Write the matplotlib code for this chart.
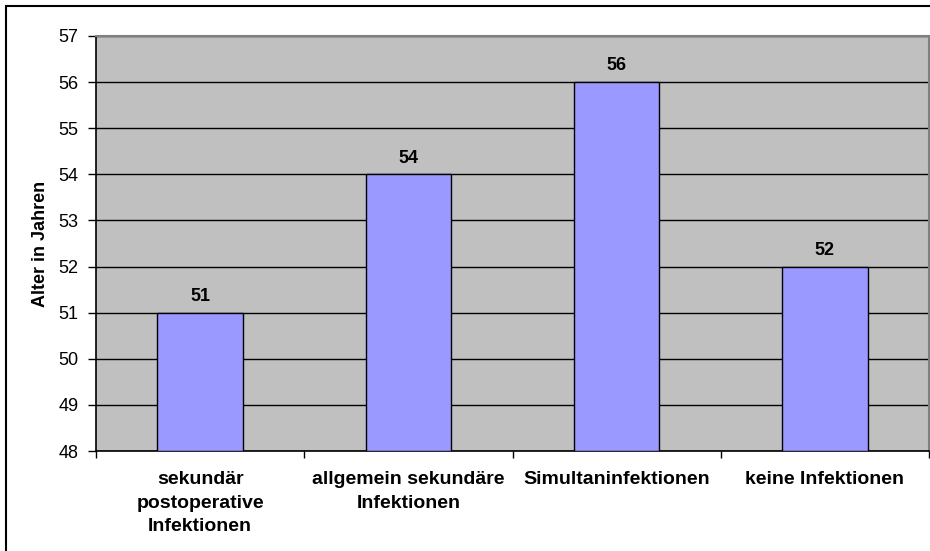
import matplotlib
matplotlib.use("Agg")
import matplotlib.pyplot as plt
from matplotlib.patches import Rectangle

plt.rcParams['font.family'] = ['Liberation Sans', 'DejaVu Sans']

categories = ["sekundär\npostoperative\nInfektionen",
              "allgemein sekundäre\nInfektionen",
              "Simultaninfektionen",
              "keine Infektionen"]
values = [51, 54, 56, 52]
y_ticks = [48, 49, 50, 51, 52, 53, 54, 55, 56, 57]

W, H = 930, 551
fig = plt.figure(figsize=(W / 100, H / 100), dpi=100)
fig.patch.set_facecolor("white")

# outer chart frame
fig.patches.append(Rectangle((6 / W, -0.5), 2.0, 1.5 - 6 / H, transform=fig.transFigure,
                             fill=False, edgecolor="black", linewidth=1.5))

ax = fig.add_axes([96 / W, 1 - 451 / H, (929 - 96) / W, (451 - 36) / H])
ax.set_facecolor("#C0C0C0")

x = list(range(len(categories)))
ax.bar(x, [v - y_ticks[0] for v in values], bottom=y_ticks[0], width=0.41,
       color="#9999FF", edgecolor="black", linewidth=1.0, zorder=3)

for xi, v in zip(x, values):
    ax.annotate(f"{v}", (xi, v), xytext=(0, 5.5), textcoords="offset points",
                ha="center", va="bottom", fontsize=13, fontweight="bold", zorder=4)

ax.set_xlim(-0.5, len(categories) - 0.5)
ax.set_ylim(y_ticks[0], y_ticks[-1])
ax.set_yticks(y_ticks)
ax.set_yticklabels([str(t) for t in y_ticks], fontsize=13)
ax.yaxis.grid(True, color="black", linewidth=1.0, zorder=1)
ax.set_axisbelow(True)

# category labels between boundary ticks
ax.set_xticks([i - 0.5 for i in range(len(categories) + 1)])
ax.set_xticklabels([])
ax.set_xticks(x, minor=True)
ax.set_xticklabels(categories, minor=True, fontsize=14, fontweight="bold",
                   linespacing=1.5, va="top")
ax.tick_params(axis="x", which="minor", length=0, pad=14.5)
ax.tick_params(axis="x", which="major", length=5, width=1, direction="out", color="black")
ax.tick_params(axis="y", length=6, width=1, direction="out", pad=6.5, color="black")

ax.set_ylabel("Alter in Jahren", fontsize=13, fontweight="bold", labelpad=7)

for side in ("left", "bottom"):
    ax.spines[side].set_color("black")
    ax.spines[side].set_linewidth(1.2)
for side in ("top", "right"):
    ax.spines[side].set_color("#808080")
    ax.spines[side].set_linewidth(1.5)

fig.savefig("out.png", dpi=100)
